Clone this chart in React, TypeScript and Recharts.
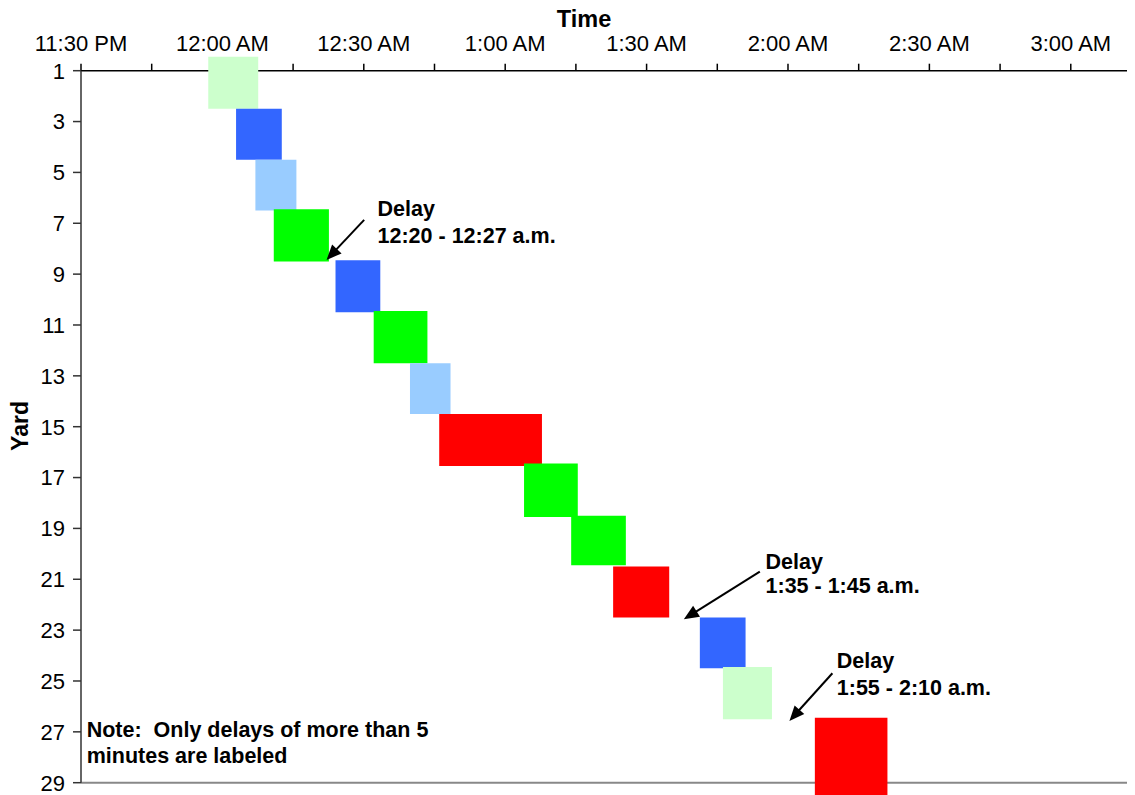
import React from 'react';
import { ComposedChart, XAxis, YAxis, ReferenceArea, ReferenceDot, ReferenceLine } from 'recharts';

// minutes relative to midnight (negative = before 12:00 AM)
const blockStart = [-3.0, 2.9, 7.0, 10.9, 24.0, 32.1, 39.8, 46.0, 64.0, 74.0, 82.9, 101.3, 106.2, 125.7];
const blockEnd = [7.6, 12.6, 15.7, 22.6, 33.5, 43.5, 48.4, 67.8, 75.4, 85.6, 94.8, 111.0, 116.6, 141.1];
const blockYardTop = [0.45, 2.5, 4.5, 6.45, 8.45, 10.45, 12.5, 14.5, 16.45, 18.5, 20.5, 22.5, 24.45, 26.45];
const blockYardBottom = [2.5, 4.5, 6.5, 8.5, 10.5, 12.5, 14.5, 16.55, 18.55, 20.45, 22.5, 24.5, 26.5, 29.5];
const blockColor = ['#CCFFCC', '#3366FF', '#99CCFF', '#00FF00', '#3366FF', '#00FF00', '#99CCFF', '#FF0000', '#00FF00', '#00FF00', '#FF0000', '#3366FF', '#CCFFCC', '#FF0000'];

const timeTicks = [-30, -15, 0, 15, 30, 45, 60, 75, 90, 105, 120, 135, 150, 165, 180];
const timeTickLabels = ['11:30 PM', '', '12:00 AM', '', '12:30 AM', '', '1:00 AM', '', '1:30 AM', '', '2:00 AM', '', '2:30 AM', '', '3:00 AM'];
const yardTicks = [1, 3, 5, 7, 9, 11, 13, 15, 17, 19, 21, 23, 25, 27, 29];

const annoTime = [22.1, 97.9, 120.3];
const annoYard = [8.44, 22.57, 26.57];
const annoLines = [
  ['Delay', '12:20 - 12:27 a.m.'],
  ['Delay', '1:35 - 1:45 a.m.'],
  ['Delay', '1:55 - 2:10 a.m.'],
];
const noteLines = ['Note:  Only delays of more than 5', 'minutes are labeled'];

// layout offsets (pixels) for annotation text / arrow tails
const annoLayout = [
  { tx: 37.6, ty: -40, dx: 51, dy1: -44, dy2: -16.7 },
  { tx: 76, ty: -47.6, dx: 81.7, dy1: -50, dy2: -26 },
  { tx: 43, ty: -47.7, dx: 47.4, dy1: -52.7, dy2: -26 },
];

const FONT = '"Liberation Sans", Arial, Helvetica, sans-serif';
const ANNO_SIZE = 21.5;

const data = blockStart.map((s, i) => ({ t: s, yard: blockYardTop[i] }));

const makeAnnoShape = (i: number) => (props: any) => {
  const { cx, cy } = props;
  const L = annoLayout[i];
  const tailX = cx + L.tx;
  const tailY = cy + L.ty;
  const vx = cx - tailX;
  const vy = cy - tailY;
  const len = Math.sqrt(vx * vx + vy * vy);
  const ux = vx / len;
  const uy = vy / len;
  const nx = -uy;
  const ny = ux;
  const HL = 15;
  const HW = 6.5;
  const bx = cx - ux * HL;
  const by = cy - uy * HL;
  const pts = `${cx},${cy} ${bx + nx * HW},${by + ny * HW} ${bx - nx * HW},${by - ny * HW}`;
  return (
    <g>
      <line x1={tailX} y1={tailY} x2={bx + ux * 2} y2={by + uy * 2} stroke="#000" strokeWidth={2} />
      <polygon points={pts} fill="#000" />
      <text x={cx + L.dx} y={cy + L.dy1} fontFamily={FONT} fontSize={ANNO_SIZE} fontWeight="bold" fill="#000">
        {annoLines[i][0]}
      </text>
      <text x={cx + L.dx} y={cy + L.dy2} fontFamily={FONT} fontSize={ANNO_SIZE} fontWeight="bold" fill="#000">
        {annoLines[i][1]}
      </text>
    </g>
  );
};

const noteShape = (props: any) => {
  const { cx, cy } = props;
  return (
    <g>
      <text x={cx + 5.7} y={cy + 4.8} fontFamily={FONT} fontSize={ANNO_SIZE} fontWeight="bold" fill="#000" style={{ whiteSpace: 'pre' }}>
        {noteLines[0]}
      </text>
      <text x={cx + 5.7} y={cy + 31.4} fontFamily={FONT} fontSize={ANNO_SIZE} fontWeight="bold" fill="#000">
        {noteLines[1]}
      </text>
    </g>
  );
};

export default function App() {
  return (
    <div style={{ position: 'relative', width: 1127, height: 787, fontFamily: FONT }}>
      <ComposedChart
        width={1127}
        height={787}
        data={data}
        margin={{ top: 22.7, right: 2, bottom: 12.3, left: 13 }}
      >
        <XAxis
          type="number"
          dataKey="t"
          orientation="top"
          domain={[-30, 193.2]}
          ticks={timeTicks}
          interval={0}
          allowDataOverflow
          height={40}
          tickSize={7}
          tickMargin={13}
          tickFormatter={(v: number) => timeTickLabels[timeTicks.indexOf(v)] ?? ''}
          tick={{ fill: '#000', fontSize: 22, fontFamily: FONT }}
          axisLine={{ stroke: '#000', strokeWidth: 1.5 }}
          tickLine={{ stroke: '#000', strokeWidth: 1.5 }}
        />
        <YAxis
          type="number"
          dataKey="yard"
          domain={[1, 29]}
          reversed
          ticks={yardTicks}
          interval={0}
          allowDataOverflow
          width={60}
          tickSize={8}
          tickMargin={8}
          tick={{ fill: '#000', fontSize: 22, fontFamily: FONT }}
          axisLine={{ stroke: '#333', strokeWidth: 1.5 }}
          tickLine={{ stroke: '#333', strokeWidth: 1.5 }}
        />
        <ReferenceLine y={29} stroke="#888" strokeWidth={2} ifOverflow="visible" />
        {blockStart.map((s, i) => (
          <ReferenceArea
            key={`b${i}`}
            x1={s}
            x2={blockEnd[i]}
            y1={blockYardTop[i]}
            y2={blockYardBottom[i]}
            fill={blockColor[i]}
            fillOpacity={1}
            stroke="none"
            ifOverflow="visible"
            zIndex={600}
          />
        ))}
        {annoTime.map((t, i) => (
          <ReferenceDot
            key={`a${i}`}
            x={t}
            y={annoYard[i]}
            r={0}
            ifOverflow="visible"
            shape={makeAnnoShape(i)}
            zIndex={700}
          />
        ))}
        <ReferenceDot x={-30} y={27} r={0} ifOverflow="visible" shape={noteShape} zIndex={700} />
      </ComposedChart>
      <svg
        width={1135}
        height={795}
        style={{ position: 'absolute', left: -8, top: -8, pointerEvents: 'none', overflow: 'visible' }}
      >
        <text x={584} y={26.5} textAnchor="middle" fontFamily={FONT} fontSize={23.5} fontWeight="bold" fill="#000">
          Time
        </text>
        <text
          transform="translate(28,426) rotate(-90)"
          textAnchor="middle"
          fontFamily={FONT}
          fontSize={23}
          fontWeight="bold"
          fill="#000"
        >
          Yard
        </text>
      </svg>
    </div>
  );
}
